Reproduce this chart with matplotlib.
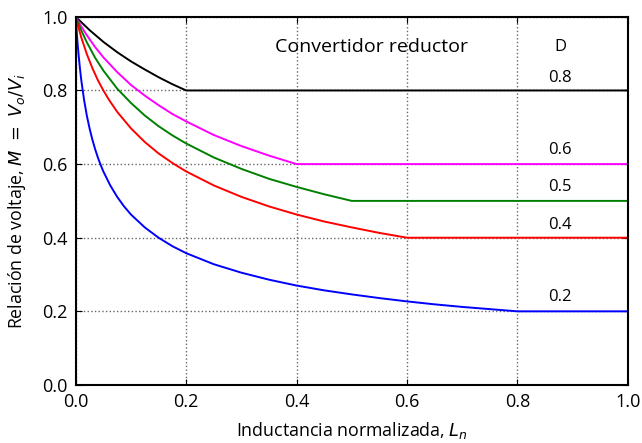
import matplotlib
matplotlib.use("Agg")
import matplotlib.pyplot as plt

plt.rcParams['font.family'] = ['Open Sans', 'DejaVu Sans']
plt.rcParams['mathtext.fontset'] = 'dejavusans'

# valores (M vs Ln) para cada ciclo de trabajo D
ln_08 = [0.0, 0.025, 0.05, 0.075, 0.10, 0.125, 0.15, 0.175, 0.20, 1.0]
m_08 = [1.0, 0.964, 0.932, 0.904, 0.879, 0.857, 0.836, 0.817, 0.800, 0.800]

ln_06 = [0.0, 0.01, 0.02, 0.035, 0.05, 0.075, 0.10, 0.125, 0.15, 0.175, 0.20,
         0.25, 0.30, 0.35, 0.40, 1.0]
m_06 = [1.0, 0.974, 0.950, 0.918, 0.890, 0.850, 0.815, 0.786, 0.760, 0.736, 0.716,
        0.679, 0.649, 0.623, 0.600, 0.600]

ln_05 = [0.0, 0.01, 0.02, 0.035, 0.05, 0.075, 0.10, 0.125, 0.15, 0.175, 0.20,
         0.25, 0.30, 0.35, 0.40, 0.45, 0.50, 1.0]
m_05 = [1.0, 0.963, 0.931, 0.889, 0.854, 0.805, 0.766, 0.732, 0.703, 0.678, 0.656,
        0.618, 0.587, 0.560, 0.538, 0.518, 0.500, 0.500]

ln_04 = [0.0, 0.005, 0.01, 0.02, 0.03, 0.04, 0.05, 0.06, 0.075, 0.10, 0.125, 0.15,
         0.175, 0.20, 0.25, 0.30, 0.35, 0.40, 0.45, 0.50, 0.55, 0.60, 1.0]
m_04 = [1.0, 0.971, 0.944, 0.899, 0.861, 0.828, 0.800, 0.775, 0.742, 0.697, 0.660, 0.629,
        0.603, 0.580, 0.542, 0.511, 0.485, 0.463, 0.444, 0.428, 0.413, 0.400, 0.400]

ln_02 = [0.0, 0.001, 0.002, 0.0035, 0.005, 0.0075, 0.01, 0.015, 0.02, 0.025, 0.03,
         0.035, 0.04, 0.045, 0.05, 0.0625, 0.075, 0.0875, 0.10, 0.125, 0.15, 0.175,
         0.20, 0.25, 0.30, 0.35, 0.40, 0.45, 0.50, 0.55, 0.60, 0.65, 0.70, 0.75, 0.80, 1.0]
m_02 = [1.0, 0.976, 0.954, 0.925, 0.899, 0.861, 0.828, 0.775, 0.732, 0.697, 0.667,
        0.641, 0.618, 0.598, 0.580, 0.542, 0.511, 0.485, 0.463, 0.428, 0.400, 0.377,
        0.358, 0.328, 0.305, 0.286, 0.270, 0.257, 0.246, 0.236, 0.227, 0.219, 0.212, 0.206, 0.200, 0.200]

series = [(ln_08, m_08, 'k'), (ln_06, m_06, 'magenta'), (ln_05, m_05, 'g'),
          (ln_04, m_04, 'r'), (ln_02, m_02, 'b')]
d_labels = ['0.8', '0.6', '0.5', '0.4', '0.2']
d_label_y = [0.834, 0.639, 0.538, 0.435, 0.239]

fig = plt.figure(figsize=(6.42, 4.43), dpi=100)
ax = fig.add_axes([0.118, 0.131, 0.860, 0.831])

for x, y, c in series:
    ax.plot(x, y, color=c, lw=1.4)

ax.set_xlim(0, 1)
ax.set_ylim(0, 1)
ax.set_xticks([0, 0.2, 0.4, 0.6, 0.8, 1.0])
ax.set_yticks([0, 0.2, 0.4, 0.6, 0.8, 1.0])
ax.grid(True, color='#666666', ls=':', lw=1.0)
ax.tick_params(direction='in', top=True, right=True, labelsize=13, length=4, pad=6)
for s in ax.spines.values():
    s.set_linewidth(1.5)

ax.set_xlabel(r'Inductancia normalizada, $L_n$', fontsize=12.8, labelpad=6)
ax.set_ylabel(r'Relación de voltaje, $M\ =\ V_o/V_i$', fontsize=12.8, labelpad=10)

ax.text(0.536, 0.918, 'Convertidor reductor', ha='center', va='center', fontsize=14)
ax.text(0.877, 0.918, 'D', ha='center', va='center', fontsize=12)
for lab, yy in zip(d_labels, d_label_y):
    ax.text(0.877, yy, lab, ha='center', va='center', fontsize=12)

fig.savefig('out.png', dpi=100)
